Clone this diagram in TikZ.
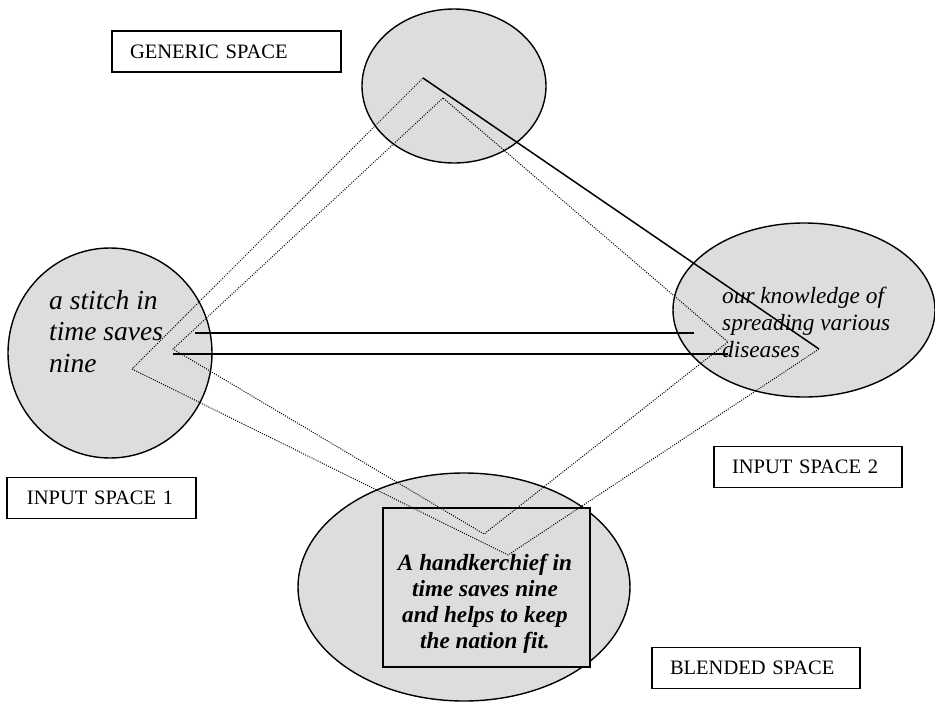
\documentclass[tikz,border=0pt]{standalone}
\usepackage{fontspec}
\setmainfont{Liberation Serif}
\usetikzlibrary{shapes.geometric}
\definecolor{spacefill}{RGB}{221,221,221}
\begin{document}
\begin{tikzpicture}[x=1pt,y=-1pt,
  spaceellipse/.style={ellipse, draw=black, line width=1.4pt, fill=spacefill, inner sep=0pt},
  spacelabel/.style={draw=black, line width=1.6pt, fill=white, minimum height=41pt,
    inner xsep=18pt, inner ysep=0pt, align=left, font=\fontsize{20.5}{24}\selectfont},
  dotline/.style={line width=1pt, dash pattern=on 1pt off 1.3pt},
  solidline/.style={line width=1.5pt},
  bodytext/.style={inner sep=0pt, align=left}]
\useasboundingbox (0,0) rectangle (935,702);
\fill[white] (0,0) rectangle (935,702);

% ellipses
\node[spaceellipse, minimum width=184pt, minimum height=154pt] (generic) at (454,86) {};
\node[spaceellipse, minimum width=204pt, minimum height=210pt] (input1) at (110,353) {};
\node[spaceellipse, minimum width=262pt, minimum height=174pt] (input2) at (804,310) {};
\node[spaceellipse, minimum width=332pt, minimum height=228pt] (blend) at (464,587) {};
\node[draw=black, line width=1.5pt, fill=spacefill, minimum width=207pt, minimum height=159pt, inner sep=0pt] (blendbox) at (486.5,587.5) {};

% texts
\node[bodytext, anchor=north west, font=\fontsize{27.5}{31.5}\selectfont\itshape] (t1) at (49,290)
  {a stitch in\\time saves\\nine};
\node[bodytext, anchor=north west, font=\fontsize{23.3}{27}\selectfont\itshape] (t2) at (722,287)
  {our knowledge of\\spreading various\\diseases};
\node[inner sep=0pt, align=center, anchor=north, font=\fontsize{23.2}{26}\selectfont\bfseries\itshape] (t3) at (485,554)
  {A handkerchief in\\time saves nine\\and helps to keep\\the nation fit.};

% labels
\node[spacelabel, text width=193pt] (lgeneric) at (226.5,51.5) {GENERIC SPACE};
\node[spacelabel, inner xsep=20pt, text width=149pt] (linput1) at (101.5,498) {INPUT SPACE 1};
\node[spacelabel, text width=152pt] (linput2) at (808,467) {INPUT SPACE 2};
\node[spacelabel, text width=172pt] (lblend) at (756,668) {BLENDED SPACE};

% connection points
\coordinate (g1) at (423,78);
\coordinate (g2) at (443,98);
\coordinate (i1a) at (132,369);
\coordinate (i1b) at (173,349);
\coordinate (b1) at (508,555);
\coordinate (b2) at (484,534);
\coordinate (i2a) at (819,349);
\coordinate (i2b) at (728,342);
\coordinate (h1s) at (195,333);
\coordinate (h1e) at (694,333);
\coordinate (h2s) at (173,354);
\coordinate (h2e) at (728,354);

% connectors
\draw[dotline] (g1) -- (i1a) -- (b1) -- (i2a);
\draw[solidline] (g1) -- (i2a);
\draw[dotline] (g2) -- (i1b) -- (b2) -- (i2b) -- cycle;
\draw[solidline] (h1s) -- (h1e);
\draw[solidline] (h2s) -- (h2e);
\end{tikzpicture}
\end{document}
